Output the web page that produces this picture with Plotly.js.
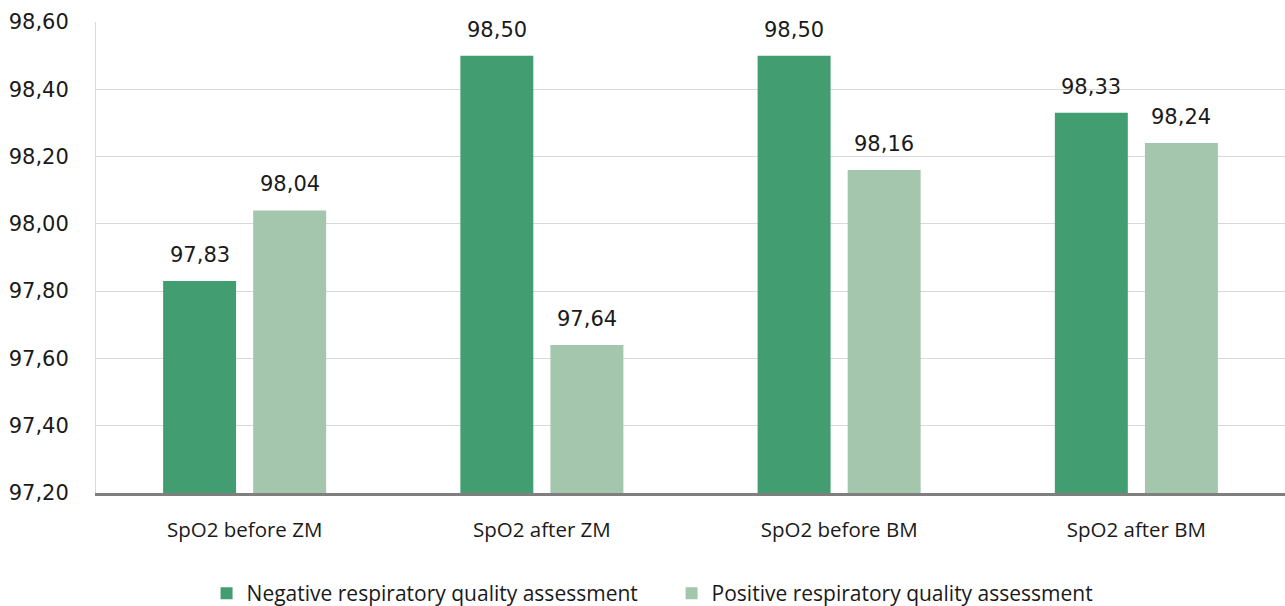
<!DOCTYPE html>
<html>
<head>
<meta charset="utf-8">
<script src="https://cdn.plot.ly/plotly-3.0.1.min.js"></script>
<style>html,body{margin:0;padding:0;background:#fff;}#chart{width:1285px;height:606px;}</style>
</head>
<body>
<div id="chart"></div>
<script>
const categories = ["SpO2 before ZM", "SpO2 after ZM", "SpO2 before BM", "SpO2 after BM"];
const negativeValues = [97.83, 98.50, 98.50, 98.33];
const positiveValues = [98.04, 97.64, 98.16, 98.24];
const seriesNames = ["Negative respiratory quality assessment", "Positive respiratory quality assessment"];
const yTickVals = [97.2, 97.4, 97.6, 97.8, 98.0, 98.2, 98.4, 98.6];

const colors = ["#429e70", "#a3c6ad"];
const series = [negativeValues, positiveValues];
const traces = series.map((vals, i) => ({
  type: "bar",
  name: seriesNames[i],
  x: categories,
  y: vals,
  marker: {color: colors[i]},
  hoverinfo: "skip"
}));

const annotations = [];
series.forEach((vals, i) => {
  vals.forEach((v, j) => {
    annotations.push({
      x: categories[j], y: v, xref: "x", yref: "y",
      text: v.toFixed(2).replace(".", ","),
      showarrow: false, yanchor: "bottom",
      xshift: (i === 0 ? -1 : 1) * 45, yshift: 12,
      font: {family: "DejaVu Sans, sans-serif", size: 21, color: "#1a1a1a"}
    });
  });
});

const layout = {
  width: 1285, height: 606,
  margin: {l: 96, r: 0, t: 22, b: 113, autoexpand: false},
  paper_bgcolor: "#fff", plot_bgcolor: "#fff",
  separators: ",.",
  barmode: "group",
  bargap: 0.394,
  bargroupgap: 0.19,
  showlegend: true,
  legend: {
    orientation: "h", x: 0.093, xanchor: "left", y: -0.17, yanchor: "top",
    font: {family: "Open Sans, sans-serif", size: 21, color: "#1a1a1a"},
    itemwidth: 30, tracegroupgap: 0,
    entrywidth: 420, entrywidthmode: "pixels"
  },
  xaxis: {
    type: "category",
    showgrid: false,
    showline: true, linecolor: "#7f7f7f", linewidth: 2.5,
    ticks: "", ticklabelstandoff: 17,
    tickfont: {family: "Open Sans, sans-serif", size: 20.5, color: "#1a1a1a"},
    fixedrange: true
  },
  yaxis: {
    range: [97.2, 98.6],
    tickvals: yTickVals,
    ticktext: yTickVals.map(v => v.toFixed(2).replace(".", ",")),
    showgrid: true, gridcolor: "#d9d9d9", gridwidth: 1,
    showline: true, linecolor: "#d9d9d9", linewidth: 1,
    zeroline: false,
    ticks: "", ticklabelstandoff: 22,
    tickfont: {family: "DejaVu Sans, sans-serif", size: 21, color: "#1a1a1a"},
    fixedrange: true
  },
  annotations: annotations
};

Plotly.newPlot("chart", traces, layout, {displayModeBar: false, staticPlot: true});
</script>
</body>
</html>
